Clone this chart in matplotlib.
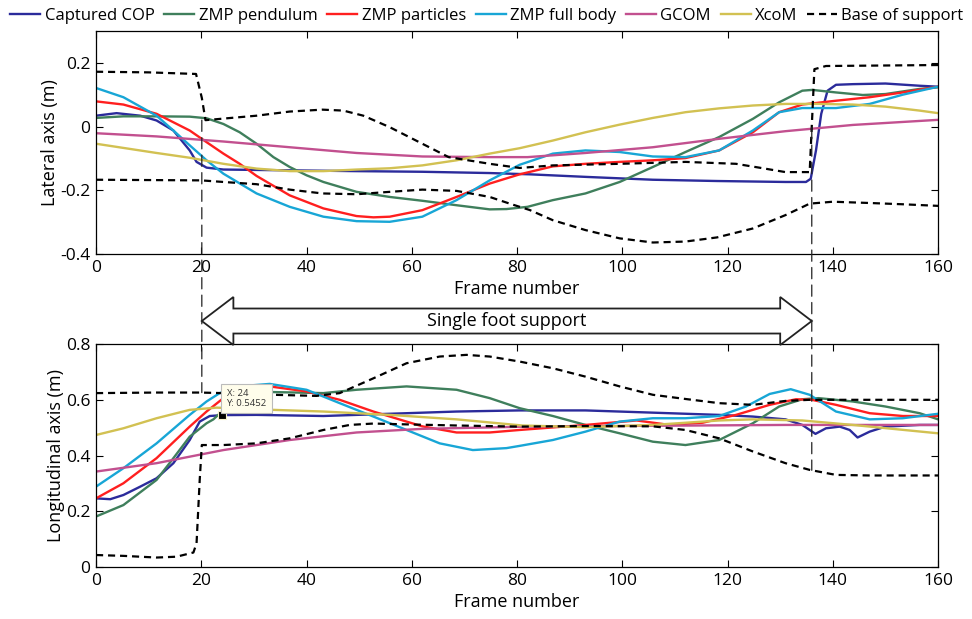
import numpy as np
import matplotlib
matplotlib.use('Agg')
import matplotlib.pyplot as plt
from matplotlib.patches import Polygon, ConnectionPatch
from matplotlib.transforms import blended_transform_factory

plt.rcParams['font.family'] = ['Open Sans', 'DejaVu Sans']
plt.rcParams['axes.unicode_minus'] = False

# (frame, value) pairs
cop_lat = np.array([(0, 0.034), (3.9, 0.042), (8.4, 0.034), (11.5, 0.019), (14.7, -0.0125), (17.8, -0.075),
                    (19.1, -0.111), (21, -0.129), (24.2, -0.135), (36.8, -0.1375), (49.5, -0.14), (62, -0.142),
                    (74.8, -0.146), (82.4, -0.15), (93, -0.158), (105.8, -0.167), (118, -0.171), (131, -0.174),
                    (134.9, -0.174), (135.8, -0.164), (136.8, -0.075), (137.8, 0.04), (139, 0.1125), (140.6, 0.131),
                    (143.8, 0.133), (150, 0.135), (156.5, 0.128), (160, 0.125)])
pend_lat = np.array([(0, 0.027), (5.2, 0.032), (11.5, 0.032), (17.8, 0.031), (21, 0.026), (24.2, 0.008),
                     (27.3, -0.018), (30.5, -0.054), (33.7, -0.096), (36.8, -0.127), (40, -0.153), (43.2, -0.174),
                     (49.5, -0.205), (55.8, -0.221), (62, -0.233), (68.5, -0.247), (74.8, -0.26), (78, -0.259),
                     (82, -0.252), (86.8, -0.231), (93, -0.21), (99.5, -0.174), (105.8, -0.127), (112, -0.08),
                     (118.4, -0.033), (124.8, 0.024), (129.8, 0.076), (134.2, 0.1125), (136.1, 0.115),
                     (140.6, 0.107), (145.7, 0.099), (150, 0.102), (156.5, 0.118), (160, 0.123)])
part_lat = np.array([(0, 0.079), (5.2, 0.069), (11.5, 0.04), (17.8, -0.0125), (21, -0.049), (24.2, -0.085),
                     (27.3, -0.117), (30.5, -0.155), (36.8, -0.216), (43.2, -0.257), (49.5, -0.281), (52.7, -0.285),
                     (55.8, -0.283), (62, -0.2625), (68.5, -0.221), (74.8, -0.179), (80.5, -0.15), (86.8, -0.125),
                     (93, -0.117), (99.5, -0.111), (105.8, -0.106), (112, -0.099), (118.4, -0.075), (124.8, -0.018),
                     (129.8, 0.045), (134.2, 0.069), (140.6, 0.081), (147, 0.092), (153.3, 0.107), (160, 0.125)])
full_lat = np.array([(0, 0.121), (5.2, 0.092), (11.5, 0.034), (14.7, -0.0125), (17.8, -0.059), (21, -0.106),
                     (24.2, -0.148), (30.5, -0.21), (36.8, -0.252), (43.2, -0.283), (49.5, -0.297), (55.8, -0.299),
                     (62, -0.283), (68.5, -0.231), (74.8, -0.169), (80.5, -0.12), (86.8, -0.085), (93, -0.075),
                     (99.5, -0.08), (105.8, -0.094), (112, -0.096), (118.4, -0.075), (124.8, -0.0125), (129.8, 0.045),
                     (134.2, 0.058), (140.6, 0.058), (147, 0.071), (153.3, 0.1), (160, 0.125)])
gcom_lat = np.array([(0, -0.021), (11.5, -0.031), (24.2, -0.047), (36.8, -0.065), (49.5, -0.083), (62, -0.094),
                     (74.8, -0.096), (82, -0.096), (93, -0.083), (105.8, -0.065), (118.4, -0.0385), (131, -0.0146),
                     (143.8, 0.005), (160, 0.021)])
xcom_lat = np.array([(0, -0.054), (11.5, -0.083), (17.8, -0.098), (24.2, -0.117), (30.5, -0.132), (36.8, -0.14),
                     (43.2, -0.14), (49.5, -0.135), (55.8, -0.131), (62, -0.122), (68.5, -0.106), (74.8, -0.085),
                     (80.5, -0.068), (86.8, -0.044), (93, -0.018), (99.5, 0.006), (105.8, 0.027), (112, 0.045),
                     (118.4, 0.057), (124.8, 0.066), (131, 0.071), (137.3, 0.071), (143.8, 0.069), (150, 0.0625),
                     (156.5, 0.05), (160, 0.042)])
base_lat_upper = np.array([(0, 0.172), (10, 0.170), (19, 0.165), (20.1, 0.09), (20.8, 0.02), (30.5, 0.034),
                           (36.8, 0.047), (43, 0.053), (47, 0.05), (50.8, 0.034), (55.8, -0.002), (62, -0.054),
                           (67, -0.096), (74.8, -0.117), (80.5, -0.13), (86.8, -0.122), (99.5, -0.117),
                           (112, -0.111), (121.6, -0.117), (126, -0.129), (131, -0.143), (135.6, -0.143),
                           (136.5, 0.18), (138.7, 0.19), (160, 0.193)])
base_lat_lower = np.array([(0, -0.167), (20, -0.169), (24.2, -0.174), (30.5, -0.181), (36.8, -0.198), (43, -0.21),
                           (49.5, -0.2125), (55.8, -0.205), (62, -0.198), (68.5, -0.202), (74.8, -0.221),
                           (78.6, -0.242), (82.4, -0.262), (86.8, -0.294), (93, -0.325), (99.5, -0.351),
                           (105.8, -0.364), (112, -0.361), (118, -0.348), (124.8, -0.32), (131, -0.278),
                           (135.6, -0.242), (140, -0.236), (147, -0.24), (153.3, -0.244), (160, -0.249)])

cop_lon = np.array([(0, 0.247), (2.7, 0.244), (5.2, 0.259), (8.4, 0.289), (11.5, 0.319), (14.7, 0.373),
                    (17.8, 0.456), (19.7, 0.522), (21.6, 0.542), (24, 0.5452), (30.5, 0.546), (43.2, 0.542),
                    (55.8, 0.55), (68.5, 0.558), (80.5, 0.562), (93, 0.562), (105.8, 0.554), (118.4, 0.546),
                    (124.8, 0.54), (131, 0.53), (134.2, 0.51), (136.7, 0.478), (138.7, 0.498), (141.3, 0.504),
                    (143.2, 0.492), (144.7, 0.465), (147, 0.486), (150, 0.504), (156.5, 0.51), (160, 0.51)])
pend_lon = np.array([(0, 0.182), (5.2, 0.223), (11.5, 0.313), (14.7, 0.391), (17.8, 0.468), (21, 0.516),
                     (22.3, 0.53), (24, 0.56), (28, 0.6), (33, 0.628), (43.2, 0.624), (49.5, 0.636), (59, 0.648),
                     (68.5, 0.636), (74.8, 0.606), (80.5, 0.57), (86.8, 0.542), (93, 0.51), (99.5, 0.48),
                     (105.8, 0.45), (112, 0.438), (118.4, 0.456), (124.8, 0.516), (129.8, 0.576), (134.2, 0.602),
                     (137.3, 0.606), (143.8, 0.594), (150, 0.576), (156.5, 0.552), (160, 0.53)])
part_lon = np.array([(0, 0.247), (5.2, 0.301), (11.5, 0.391), (17.8, 0.504), (21, 0.558), (24.2, 0.606),
                     (27.3, 0.642), (33, 0.648), (40, 0.63), (46.3, 0.6), (52.7, 0.558), (59, 0.522), (62, 0.505),
                     (68.5, 0.483), (74.8, 0.483), (80.5, 0.492), (93, 0.51), (102.7, 0.526), (109, 0.51),
                     (115.3, 0.518), (121.6, 0.546), (128, 0.582), (133, 0.602), (136, 0.6), (140.6, 0.582),
                     (147, 0.552), (153.3, 0.542), (160, 0.542)])
full_lon = np.array([(0, 0.289), (5.2, 0.355), (11.5, 0.444), (17.8, 0.546), (21, 0.594), (23.5, 0.624),
                     (27, 0.648), (33, 0.657), (40, 0.636), (46.3, 0.588), (52.7, 0.54), (59, 0.492), (65.3, 0.444),
                     (71.6, 0.42), (78, 0.427), (80.5, 0.435), (86.8, 0.456), (93, 0.486), (99.5, 0.522),
                     (105.8, 0.534), (112, 0.534), (118.4, 0.542), (123.5, 0.576), (128, 0.621), (132, 0.638),
                     (135.6, 0.618), (140.6, 0.558), (147, 0.53), (153.3, 0.534), (160, 0.55)])
gcom_lon = np.array([(0, 0.343), (11.5, 0.373), (24.2, 0.42), (36.8, 0.456), (49.5, 0.483), (62, 0.496),
                     (82, 0.504), (105.8, 0.507), (131, 0.51), (160, 0.51)])
xcom_lon = np.array([(0, 0.474), (5.2, 0.498), (11.5, 0.534), (17.8, 0.564), (22.9, 0.572), (30.5, 0.566),
                     (43.2, 0.558), (55.8, 0.546), (68.5, 0.53), (81, 0.508), (93, 0.502), (105.8, 0.51),
                     (118.4, 0.526), (124.8, 0.53), (134.2, 0.526), (143.8, 0.51), (160, 0.48)])
base_lon_upper = np.array([(0, 0.624), (11.5, 0.626), (19.7, 0.626), (24.2, 0.624), (30.5, 0.62), (33.7, 0.618),
                           (41.9, 0.614), (46.3, 0.624), (52.7, 0.677), (59, 0.731), (65.3, 0.755), (70.4, 0.761),
                           (74.8, 0.755), (80.5, 0.737), (86.8, 0.713), (93, 0.683), (99.5, 0.648), (105.8, 0.618),
                           (112, 0.603), (118.4, 0.588), (124.8, 0.582), (131, 0.596), (135.6, 0.6), (160, 0.6)])
base_lon_lower = np.array([(0, 0.044), (5.2, 0.041), (11.5, 0.035), (15.3, 0.038), (18.5, 0.053), (19.1, 0.086),
                           (19.7, 0.313), (20.1, 0.438), (24.2, 0.438), (30.5, 0.444), (36.8, 0.462), (43.2, 0.492),
                           (48.2, 0.51), (52.7, 0.515), (59, 0.512), (68.5, 0.508), (80.5, 0.504), (93, 0.506),
                           (105.8, 0.505), (112, 0.492), (118.4, 0.462), (124.8, 0.415), (131, 0.373),
                           (135.6, 0.349), (140.6, 0.331), (147, 0.329), (160, 0.329)])

labels = ['Captured COP', 'ZMP pendulum', 'ZMP particles', 'ZMP full body', 'GCOM', 'XcoM']
colors = ['#2b2b9b', '#3f7f5c', '#ff1f1f', '#18a6d6', '#c2508f', '#d2c152']
lat_series = [cop_lat, pend_lat, part_lat, full_lat, gcom_lat, xcom_lat]
lon_series = [cop_lon, pend_lon, part_lon, full_lon, gcom_lon, xcom_lon]

support_start, support_end = 20.1, 136.0
tip_x, tip_y = 24, 0.5452

fig = plt.figure(figsize=(9.72, 6.19), dpi=100)
ax1 = fig.add_axes([0.0988, 0.5897, 0.8663, 0.3603])
ax2 = fig.add_axes([0.0988, 0.0835, 0.8663, 0.3608])

handles = []
for ax, series, bases in [(ax1, lat_series, (base_lat_upper, base_lat_lower)),
                          (ax2, lon_series, (base_lon_upper, base_lon_lower))]:
    for d, c, l in zip(series, colors, labels):
        h, = ax.plot(d[:, 0], d[:, 1], color=c, lw=1.7, label=l)
        if ax is ax1:
            handles.append(h)
    for b in bases:
        h, = ax.plot(b[:, 0], b[:, 1], color='k', lw=1.6, dashes=(3.2, 2.2), label='Base of support')
    if ax is ax1:
        handles.append(h)
    ax.set_xlim(0, 160)
    ax.set_xticks(np.arange(0, 161, 20))
    ax.tick_params(direction='in', top=True, right=True, length=5, width=0.8, labelsize=12.5)
    ax.tick_params(axis='x', pad=4)
    ax.tick_params(axis='y', pad=4)
    for s in ax.spines.values():
        s.set_linewidth(0.9)
    ax.set_xlabel('Frame number', fontsize=13, labelpad=3)

ax1.set_ylim(-0.4, 0.3)
ax1.set_yticks([-0.4, -0.2, 0, 0.2])
ax1.set_yticklabels(['-0.4', '-0.2', '0', '0.2'])
ax1.set_ylabel('Lateral axis (m)', fontsize=13, labelpad=1)
ax2.set_ylim(0, 0.8)
ax2.set_yticks([0, 0.2, 0.4, 0.6, 0.8])
ax2.set_yticklabels(['0', '0.2', '0.4', '0.6', '0.8'])
ax2.set_ylabel('Longitudinal axis (m)', fontsize=13, labelpad=1)

# vertical markers for the single foot support phase
for xs, bt, bb in [(support_start, base_lat_upper, base_lon_upper), (support_end, base_lat_upper, base_lon_lower)]:
    y_top = np.interp(xs - 0.01 if xs > 100 else xs + 0.8, bt[:, 0], bt[:, 1])
    y_bot = np.interp(xs, bb[:, 0], bb[:, 1])
    con = ConnectionPatch(xyA=(xs, y_top), coordsA=ax1.transData, xyB=(xs, y_bot), coordsB=ax2.transData,
                          color='#222222', lw=0.9, linestyle=(0, (9, 5)), zorder=4)
    fig.add_artist(con)

# double arrow between panels
tr = blended_transform_factory(ax2.transData, fig.transFigure)
yc, bh, hh, hl = 0.4814, 0.0202, 0.0388, 6.0
arrow = [(support_start, yc), (support_start + hl, yc + hh), (support_start + hl, yc + bh),
         (support_end - hl, yc + bh), (support_end - hl, yc + hh), (support_end, yc),
         (support_end - hl, yc - hh), (support_end - hl, yc - bh), (support_start + hl, yc - bh),
         (support_start + hl, yc - hh)]
fig.add_artist(Polygon(arrow, closed=True, transform=tr, facecolor='white', edgecolor='#222222', lw=1.3,
                       zorder=5))
fig.text((support_start + support_end) / 2, yc, 'Single foot support', transform=tr, ha='center', va='center',
         fontsize=13, zorder=6)

# data tip
ax2.plot([tip_x], [tip_y], marker='s', color='k', ms=5.5, mec='#f5f0c8', mew=0.8, zorder=5)
ax2.annotate(f'X: {tip_x}\nY: {tip_y}', xy=(tip_x, tip_y), xytext=(3, 5), textcoords='offset points',
             fontsize=6.8, color='#333333', ha='left', va='bottom', zorder=6,
             bbox=dict(boxstyle='square,pad=0.55', fc='#fffdeb', ec='#bbbbbb', lw=0.8))

fig.legend(handles, labels + ['Base of support'], loc='upper center', bbox_to_anchor=(0.501, 1.012), ncol=7,
           frameon=False, fontsize=12, handlelength=1.8, handletextpad=0.25, columnspacing=0.6)

fig.savefig('out.png', dpi=100)
